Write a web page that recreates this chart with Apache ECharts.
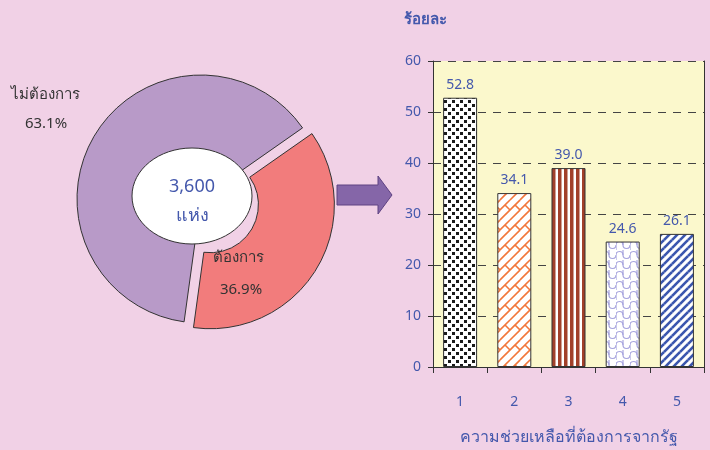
<!DOCTYPE html>
<html><head><meta charset="utf-8">
<script src="https://cdn.jsdelivr.net/npm/echarts@6/dist/echarts.min.js"></script>
<style>html,body{margin:0;padding:0;background:#F1D1E6;}#c{width:710px;height:450px;}</style>
</head><body><div id="c"></div>
<script>
// ---- data ----
const pieNames = ['ต้องการ', 'ไม่ต้องการ'];
const pieValues = [36.9, 63.1];
const totalText = '3,600';
const totalUnit = 'แห่ง';
const barCategories = ['1', '2', '3', '4', '5'];
const barValues = [52.8, 34.1, 39.0, 24.6, 26.1];
const yTicks = [0, 10, 20, 30, 40, 50, 60];
const yTitle = 'ร้อยละ';
const xTitle = 'ความช่วยเหลือที่ต้องการจากรัฐ';

const FONT = '"Noto Sans", "DejaVu Sans", sans-serif';
const BLUE = '#4458AC';

function makePattern(w, h, draw) {
  const c = document.createElement('canvas');
  c.width = w; c.height = h;
  const ctx = c.getContext('2d');
  ctx.fillStyle = '#ffffff';
  ctx.fillRect(0, 0, w, h);
  draw(ctx, w, h);
  return { image: c, repeat: 'repeat' };
}
function wrapLines(ctx, segs, w, h) {
  for (const [x1, y1, x2, y2] of segs) {
    for (const dx of [-w, 0, w]) for (const dy of [-h, 0, h]) {
      ctx.beginPath(); ctx.moveTo(x1 + dx, y1 + dy); ctx.lineTo(x2 + dx, y2 + dy); ctx.stroke();
    }
  }
}
const patDots = makePattern(8, 8, (ctx) => {
  ctx.fillStyle = '#1a1a1a';
  ctx.fillRect(0, 0, 3, 3); ctx.fillRect(4, 4, 3, 3);
});
const patBrick = makePattern(20, 20, (ctx, w, h) => {
  ctx.strokeStyle = '#F2773A'; ctx.lineWidth = 1.6;
  wrapLines(ctx, [[0, 20, 20, 0], [0, 10, 10, 0], [10, 20, 20, 10], [5, 5, 10, 10], [15, 5, 20, 10]], w, h);
});
const patStripeV = makePattern(6, 6, (ctx) => {
  ctx.fillStyle = '#A2402A';
  ctx.fillRect(0, 0, 3.5, 6);
});
const patWave = makePattern(14, 10, (ctx) => {
  ctx.strokeStyle = '#A7A4DE'; ctx.lineWidth = 1.2;
  ctx.beginPath(); ctx.arc(3.5, 5, 3.5, Math.PI, 0); ctx.stroke();
  ctx.beginPath(); ctx.arc(10.5, 5, 3.5, 0, Math.PI); ctx.stroke();
  ctx.beginPath(); ctx.moveTo(0, 5); ctx.lineTo(0, 10); ctx.stroke();
  ctx.beginPath(); ctx.moveTo(7, 0); ctx.lineTo(7, 5); ctx.stroke();
});
const patDiag = makePattern(8, 8, (ctx, w, h) => {
  ctx.strokeStyle = '#3A56AE'; ctx.lineWidth = 2.6;
  wrapLines(ctx, [[0, 8, 8, 0]], w, h);
});
const barPatterns = [patDots, patBrick, patStripeV, patWave, patDiag];

const chart = echarts.init(document.getElementById('c'), null, { renderer: 'canvas' });

const pieCenter = [201, 199];
const pieR = 124;
const pieColors = ['#F27C7C', '#B89AC8'];

function pieData(visibleIdx) {
  return pieNames.map((n, i) => ({
    name: n, value: pieValues[i],
    selected: i === 0,
    itemStyle: i === visibleIdx
      ? { color: pieColors[i], borderColor: '#333', borderWidth: 1 }
      : { color: 'rgba(0,0,0,0)', borderWidth: 0 }
  }));
}

const option = {
  backgroundColor: '#F1D1E6',
  animation: false,
  textStyle: { fontFamily: FONT },
  grid: { left: 433, right: 6, top: 61, bottom: 80, show: true, backgroundColor: '#FBF8CC', borderWidth: 0 },
  xAxis: {
    type: 'category', data: barCategories,
    axisLine: { lineStyle: { color: '#333', width: 1 } },
    axisTick: { show: true, length: 6, lineStyle: { color: '#333' } },
    axisLabel: { color: BLUE, fontSize: 14, margin: 28, fontFamily: FONT },
    name: xTitle, nameLocation: 'middle', nameGap: 62,
    nameTextStyle: { color: BLUE, fontSize: 16, fontFamily: FONT }
  },
  yAxis: [{
    type: 'value', min: 0, max: 60, interval: 10,
    axisLine: { show: true, lineStyle: { color: '#333', width: 1 } },
    axisTick: { show: true, length: 5, lineStyle: { color: '#333' } },
    axisLabel: { color: BLUE, fontSize: 14, margin: 12, fontFamily: FONT,
      formatter: (v) => yTicks.includes(v) ? String(v) : '' },
    splitLine: { show: true, lineStyle: { color: '#444', type: [8, 7], width: 1 } }
  }, {
    type: 'value', min: 0, max: 60, interval: 10, position: 'right',
    axisLine: { show: true, lineStyle: { color: '#333', width: 1 } },
    axisTick: { show: false }, axisLabel: { show: false }, splitLine: { show: false }
  }],
  series: [
    {
      type: 'pie', center: pieCenter, radius: [42, pieR], startAngle: 35, clockwise: true,
      selectedMode: 'single', selectedOffset: 11, silent: true,
      label: { show: false }, labelLine: { show: false },
      data: pieData(1)
    },
    {
      type: 'pie', center: pieCenter, radius: [48, pieR], startAngle: 35, clockwise: true,
      selectedMode: 'single', selectedOffset: 11, silent: true,
      label: { show: false }, labelLine: { show: false },
      data: pieData(0)
    },
    {
      type: 'bar', barWidth: 34,
      data: barValues.map((v, i) => ({
        value: v,
        itemStyle: { color: barPatterns[i], borderColor: '#333', borderWidth: 1 }
      })),
      label: { show: true, position: 'top', distance: 6, color: BLUE, fontSize: 14, fontFamily: FONT,
        formatter: (p) => p.value.toFixed(1) }
    }
  ],
  graphic: [
    { type: 'ellipse', shape: { cx: 192, cy: 196, rx: 60, ry: 48 }, style: { fill: '#fff', stroke: '#333', lineWidth: 1 }, z: 100 },
    { type: 'text', x: 192, y: 187, z: 101, style: { text: totalText, textAlign: 'center', textVerticalAlign: 'middle', fill: BLUE, fontSize: 18, fontFamily: FONT } },
    { type: 'text', x: 192, y: 216, z: 101, style: { text: totalUnit, textAlign: 'center', textVerticalAlign: 'middle', fill: BLUE, fontSize: 18, fontFamily: FONT } },
    { type: 'text', x: 45, y: 95, z: 101, style: { text: pieNames[1], textAlign: 'center', textVerticalAlign: 'middle', fill: '#333', fontSize: 15, fontFamily: FONT } },
    { type: 'text', x: 46, y: 124, z: 101, style: { text: pieValues[1].toFixed(1) + '%', textAlign: 'center', textVerticalAlign: 'middle', fill: '#333', fontSize: 15, fontFamily: FONT } },
    { type: 'text', x: 238, y: 258, z: 101, style: { text: pieNames[0], textAlign: 'center', textVerticalAlign: 'middle', fill: '#333', fontSize: 15, fontFamily: FONT } },
    { type: 'text', x: 241, y: 290, z: 101, style: { text: pieValues[0].toFixed(1) + '%', textAlign: 'center', textVerticalAlign: 'middle', fill: '#333', fontSize: 15, fontFamily: FONT } },
    { type: 'polygon', z: 100, shape: { points: [[337, 185], [378, 185], [378, 176], [392, 195], [378, 214], [378, 205], [337, 205]] },
      style: { fill: '#8566A8', stroke: '#5E4282', lineWidth: 1 } },
    { type: 'text', x: 404, y: 20, z: 101, style: { text: yTitle, textAlign: 'left', textVerticalAlign: 'middle', fill: BLUE, fontSize: 15, fontWeight: 'bold', fontFamily: FONT } }
  ]
};
chart.setOption(option);
</script>
</body></html>
